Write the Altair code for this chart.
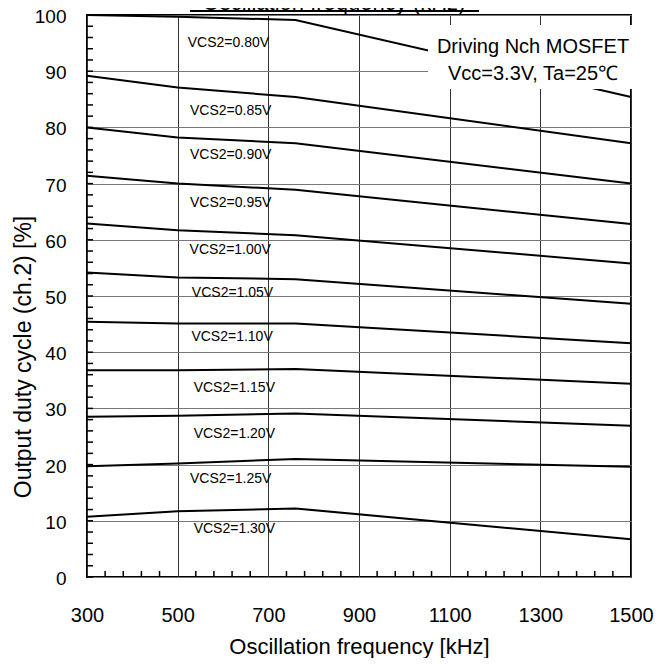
import altair as alt
import pandas as pd

# ---- data ----
freq = [300, 500, 760, 1500]
vcs_names = ["VCS2=0.80V", "VCS2=0.85V", "VCS2=0.90V", "VCS2=0.95V", "VCS2=1.00V",
             "VCS2=1.05V", "VCS2=1.10V", "VCS2=1.15V", "VCS2=1.20V", "VCS2=1.25V", "VCS2=1.30V"]
duty_080 = [100.0, 99.7, 99.1, 85.4]
duty_085 = [89.2, 87.1, 85.4, 77.2]
duty_090 = [80.0, 78.2, 77.2, 70.0]
duty_095 = [71.4, 70.0, 68.9, 62.8]
duty_100 = [62.9, 61.7, 60.8, 55.8]
duty_105 = [54.2, 53.3, 53.0, 48.6]
duty_110 = [45.4, 45.1, 45.1, 41.6]
duty_115 = [36.8, 36.8, 37.0, 34.4]
duty_120 = [28.5, 28.7, 29.1, 26.9]
duty_125 = [19.7, 20.2, 21.0, 19.6]
duty_130 = [10.7, 11.7, 12.2, 6.7]
series = [duty_080, duty_085, duty_090, duty_095, duty_100, duty_105,
          duty_110, duty_115, duty_120, duty_125, duty_130]

label_x = [612, 617, 617, 617, 616, 621, 620, 625, 625, 617, 625]
label_y = [95.0, 82.9, 75.1, 66.6, 58.1, 50.6, 42.7, 33.6, 25.5, 17.4, 8.5]

x_ticks = [300, 500, 700, 900, 1100, 1300, 1500]
y_ticks = [0, 10, 20, 30, 40, 50, 60, 70, 80, 90, 100]
x_minor = [340, 380, 420, 460, 540, 580, 620, 660, 740, 780, 820, 860,
           940, 980, 1020, 1060, 1140, 1180, 1220, 1260, 1340, 1380, 1420, 1460]
y_minor = [v for v in range(2, 100, 2) if v % 10 != 0]

x_title = "Oscillation frequency [kHz]"
y_title = "Output duty cycle (ch.2) [%]"
top_title = "Oscillation frequency (kHz)"
note_1 = "Driving Nch MOSFET"
note_2 = "Vcc=3.3V, Ta=25℃"

FONT = "Liberation Sans"
W, H = 544, 562

rows = []
for name, vals in zip(vcs_names, series):
    for f, v in zip(freq, vals):
        rows.append({"vcs": name, "f": f, "duty": v})
df = pd.DataFrame(rows)
labels_df = pd.DataFrame({"vcs": vcs_names, "f": label_x, "duty": label_y})

xscale = alt.Scale(domain=[300, 1500], nice=False, zero=False)
yscale = alt.Scale(domain=[0, 100], nice=False, zero=False)

xaxis = alt.Axis(
    values=x_ticks, title=x_title, grid=True, gridColor="#333333", gridWidth=1,
    ticks=False, domain=False, labelFontSize=20, labelFont=FONT, labelColor="black",
    labelPadding=28, labelFlush=False, labelOverlap=False,
    titleFontSize=22, titleFont=FONT, titleFontWeight="normal",
    titleColor="black", titleBaseline="alphabetic", titleY=76, format="d")
yaxis = alt.Axis(
    values=y_ticks, title=None, grid=True, gridColor="#777777", gridWidth=1,
    ticks=False, domain=False, labelFontSize=19, labelFont=FONT, labelColor="black",
    labelPadding=21, labelFlush=False, labelOverlap=False, labelOffset=1.5, format="d")

X = alt.X("f:Q", scale=xscale, axis=xaxis)
Y = alt.Y("duty:Q", scale=yscale, axis=yaxis)

lines = alt.Chart(df).mark_line(color="black", strokeWidth=2).encode(
    x=X, y=Y, detail="vcs:N",
)

labels = alt.Chart(labels_df).mark_text(
    font=FONT, fontSize=14, color="black", align="center", baseline="middle"
).encode(x=X, y=Y, text="vcs:N")

one = pd.DataFrame({"a": [0]})

ytick_df = pd.DataFrame({"duty": y_minor + y_ticks})
yticks = alt.Chart(ytick_df).mark_rule(color="black", strokeWidth=1.5).encode(
    y=Y, x=alt.value(0), x2=alt.value(6),
)
xtick_df = pd.DataFrame({"f": x_minor})
xticks = alt.Chart(xtick_df).mark_rule(color="black", strokeWidth=1.5).encode(
    x=X, y=alt.value(H), y2=alt.value(H - 6),
)

box = alt.Chart(one).mark_rect(fill="white").encode(
    x=alt.value(341), x2=alt.value(549), y=alt.value(10), y2=alt.value(74),
)
note_text1 = alt.Chart(one).mark_text(
    font=FONT, fontSize=20, color="black", align="center", baseline="alphabetic"
).encode(x=alt.value(446), y=alt.value(38), text=alt.value(note_1))
note_text2 = alt.Chart(one).mark_text(
    font=FONT, fontSize=20, color="black", align="center", baseline="alphabetic"
).encode(x=alt.value(446), y=alt.value(65), text=alt.value(note_2))

title_text = alt.Chart(one).mark_text(
    font=FONT, fontSize=22, color="black", align="center", baseline="alphabetic"
).encode(x=alt.value(247), y=alt.value(-5), text=alt.value(top_title))
title_line = alt.Chart(one).mark_rule(color="black", strokeWidth=2).encode(
    x=alt.value(103), x2=alt.value(392), y=alt.value(-4),
)

ytitle = alt.Chart(one).mark_text(
    font=FONT, fontSize=23, color="black", align="center", baseline="middle", angle=270
).encode(x=alt.value(-63), y=alt.value(342), text=alt.value(y_title))

chart = alt.layer(
    lines, labels, yticks, xticks, box, note_text1, note_text2,
    title_text, title_line, ytitle
).properties(
    width=W, height=H,
    autosize=alt.AutoSizeParams(type="none"),
    padding={"left": 79, "top": 7, "right": 33, "bottom": 81},
).configure_view(
    stroke="black", strokeWidth=2
)

chart.save("out.html", embed_options={"renderer": "svg", "actions": False})
